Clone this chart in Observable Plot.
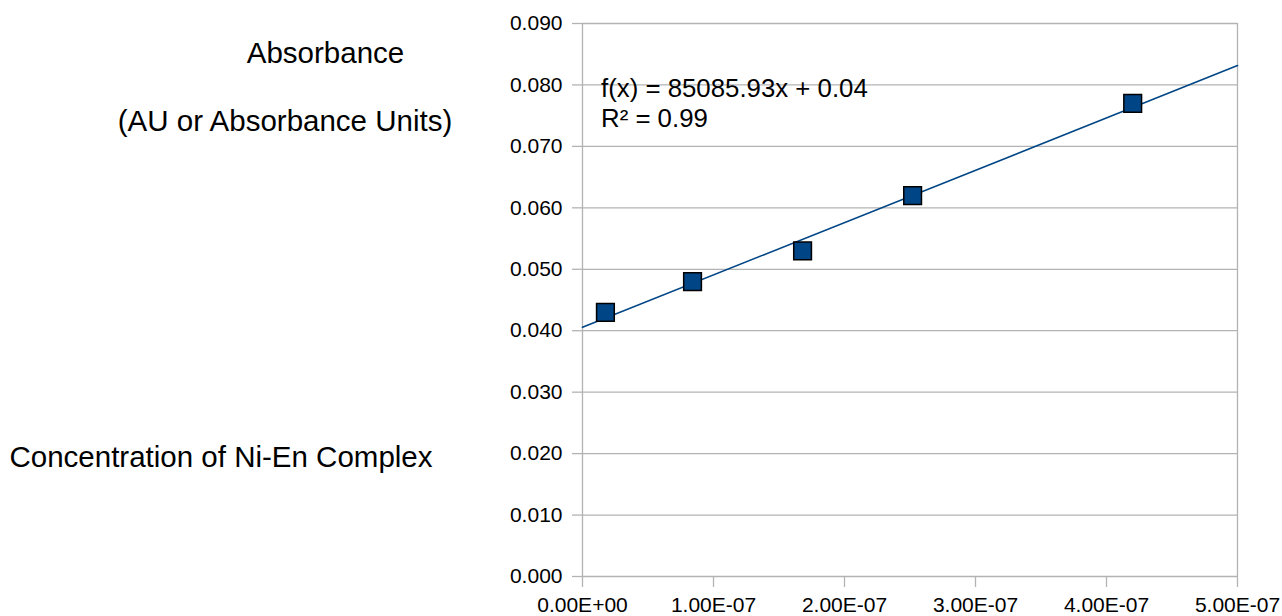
<!DOCTYPE html>
<html>
<head>
<meta charset="utf-8">
<script src="https://cdn.jsdelivr.net/npm/d3@7"></script>
<script src="https://cdn.jsdelivr.net/npm/@observablehq/plot@0.6"></script>
<style>
  html, body { margin: 0; padding: 0; background: #fff; }
  #chart { position: relative; width: 1282px; height: 616px; font-family: "Liberation Sans", Arial, sans-serif; }
  #chart svg { display: block; }
</style>
</head>
<body>
<div id="chart"></div>
<script>
// ---- data ----
const concentration = [1.75e-8, 8.4e-8, 1.68e-7, 2.52e-7, 4.2e-7];
const absorbance = [0.043, 0.048, 0.053, 0.062, 0.077];
const xTicks = [0, 1e-7, 2e-7, 3e-7, 4e-7, 5e-7];
const xTickLabels = ["0.00E+00", "1.00E-07", "2.00E-07", "3.00E-07", "4.00E-07", "5.00E-07"];
const yTicks = [0, 0.01, 0.02, 0.03, 0.04, 0.05, 0.06, 0.07, 0.08, 0.09];
const yTickLabels = ["0.000", "0.010", "0.020", "0.030", "0.040", "0.050", "0.060", "0.070", "0.080", "0.090"];
const yTitleLines = ["Absorbance", "(AU or Absorbance Units)"];
const xTitle = "Concentration of Ni-En Complex";
const equationLines = ["f(x) = 85085.93x + 0.04", "R\u00B2 = 0.99"];

const points = concentration.map((c, i) => ({x: c, y: absorbance[i]}));

// least-squares trend line over the x domain
const mx = d3.mean(concentration), my = d3.mean(absorbance);
const sxy = d3.sum(concentration, (c, i) => (c - mx) * (absorbance[i] - my));
const sxx = d3.sum(concentration, c => (c - mx) ** 2);
const slope = sxy / sxx, intercept = my - slope * mx;
const xDomain = [xTicks[0], xTicks[xTicks.length - 1]];
const trend = xDomain.map(x => ({x, y: intercept + slope * x}));

const grid = "#b3b3b3";
const blue = "#004586";

const plot = Plot.plot({
  width: 1282,
  height: 616,
  marginLeft: 582,
  marginRight: 45,
  marginTop: 23,
  marginBottom: 40,
  style: {fontFamily: '"Liberation Sans", Arial, sans-serif', fontSize: "21px", color: "#000", background: "#fff"},
  x: {domain: xDomain, label: null},
  y: {domain: [yTicks[0], yTicks[yTicks.length - 1]], label: null},
  marks: [
    Plot.gridY(yTicks, {stroke: grid, strokeOpacity: 1, strokeWidth: 1.3}),
    Plot.ruleX(xDomain, {stroke: grid, strokeWidth: 1.3}),
    Plot.axisY({ticks: yTicks, tickFormat: (d, i) => yTickLabels[i], tickSize: 10, tickPadding: 10, stroke: grid, strokeWidth: 1.3, label: null, fontSize: 21}),
    Plot.axisX({ticks: xTicks, tickFormat: (d, i) => xTickLabels[i], tickSize: 11, tickPadding: 10, stroke: grid, strokeWidth: 1.3, label: null, fontSize: 21}),
    Plot.line(trend, {x: "x", y: "y", stroke: blue, strokeWidth: 1.6}),
    Plot.dot(points, {x: "x", y: "y", symbol: "square", r: 10, fill: blue, stroke: "#000", strokeWidth: 1.5})
  ]
});

const chart = document.getElementById("chart");
chart.appendChild(plot);

// annotations
const svg = d3.select(plot);
const ann = svg.append("g").attr("font-family", '"Liberation Sans", Arial, sans-serif').attr("fill", "#000");
ann.append("text").attr("x", 325.5).attr("y", 63).attr("text-anchor", "middle").attr("font-size", 29.5).text(yTitleLines[0]);
ann.append("text").attr("x", 285).attr("y", 131).attr("text-anchor", "middle").attr("font-size", 29.5).text(yTitleLines[1]);
ann.append("text").attr("x", 221).attr("y", 467).attr("text-anchor", "middle").attr("font-size", 29.5).text(xTitle);
ann.append("text").attr("x", 601).attr("y", 97).attr("text-anchor", "start").attr("font-size", 25.8).text(equationLines[0]);
ann.append("text").attr("x", 601).attr("y", 127).attr("text-anchor", "start").attr("font-size", 25.8).text(equationLines[1]);
</script>
</body>
</html>
